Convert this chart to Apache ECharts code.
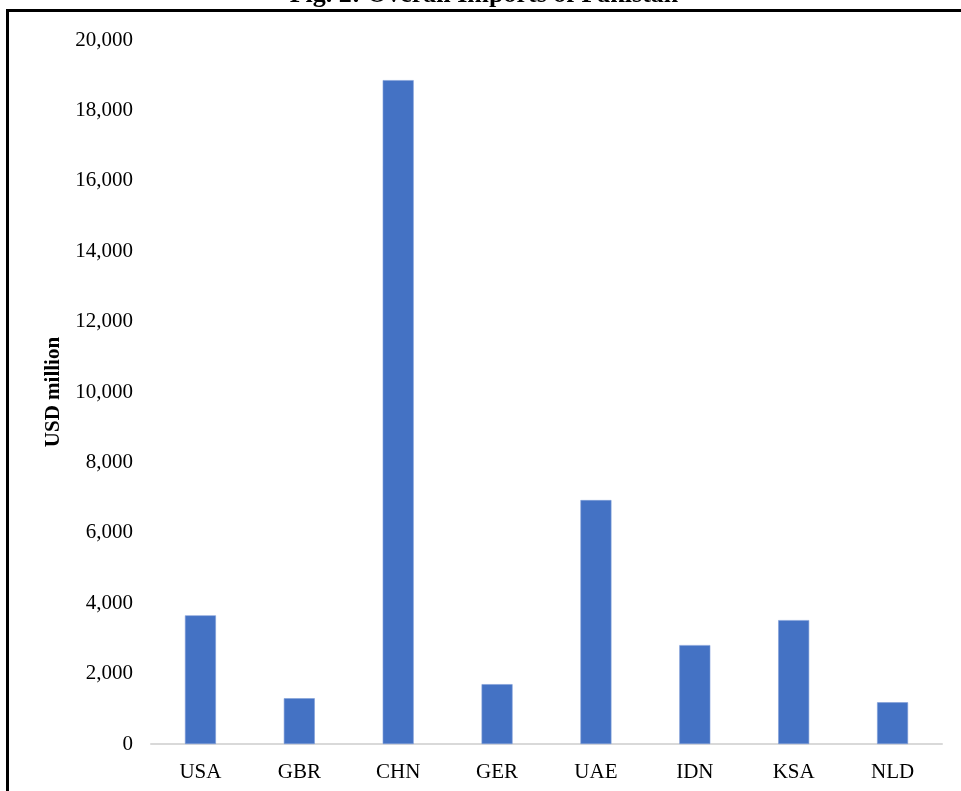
<!DOCTYPE html>
<html>
<head>
<meta charset="utf-8">
<script src="https://cdn.jsdelivr.net/npm/echarts@6/dist/echarts.min.js"></script>
<style>
  html, body { margin: 0; padding: 0; background: #fff; }
  #chart { width: 961px; height: 791px; }
</style>
</head>
<body>
<div id="chart"></div>
<script>
const countries = ['USA', 'GBR', 'CHN', 'GER', 'UAE', 'IDN', 'KSA', 'NLD'];
const imports = [3655, 1300, 18860, 1700, 6930, 2810, 3520, 1185];
const yTicks = [0, 2000, 4000, 6000, 8000, 10000, 12000, 14000, 16000, 18000, 20000];
const titleText = 'Fig. 2: Overall Imports of Pakistan';

const chart = echarts.init(document.getElementById('chart'), null, { width: 961, height: 791 });
chart.setOption({
  animation: false,
  textStyle: {
    fontFamily: 'Liberation Serif',
  },
  // title is clipped at the top edge, so it is placed as graphic text
  graphic: [
    {
      type: 'text',
      x: 484,
      y: 8,
      silent: true,
      style: {
        text: titleText,
        font: 'bold 26px "Liberation Serif"',
        fill: '#000',
        align: 'center',
        verticalAlign: 'bottom',
      },
    },
    {
      type: 'rect',
      shape: { x: 7.5, y: 10.5, width: 1000, height: 1000 },
      style: { fill: 'none', stroke: '#000', lineWidth: 3 },
      silent: true,
    },
  ],
  grid: {
    left: 151,
    right: 19,
    top: 40,
    bottom: 47,
    containLabel: false,
  },
  xAxis: {
    type: 'category',
    data: countries,
    axisLine: { show: true, lineStyle: { color: '#d9d9d9', width: 2 } },
    axisTick: { show: false },
    axisLabel: {
      fontFamily: 'Liberation Serif',
      fontSize: 21,
      color: '#000',
      margin: 18,
    },
  },
  yAxis: {
    type: 'value',
    min: yTicks[0],
    max: yTicks[yTicks.length - 1],
    interval: yTicks[1] - yTicks[0],
    name: 'USD million',
    nameLocation: 'middle',
    nameGap: 87,
    nameTextStyle: {
      fontFamily: 'Liberation Serif',
      fontSize: 21,
      fontWeight: 'bold',
      color: '#000',
    },
    axisLine: { show: false },
    axisTick: { show: false },
    splitLine: { show: false },
    axisLabel: {
      fontFamily: 'Liberation Serif',
      fontSize: 21,
      color: '#000',
      margin: 18,
      formatter: (v) => v.toLocaleString('en-US'),
    },
  },
  series: [
    {
      name: 'Imports',
      type: 'bar',
      data: imports,
      barWidth: 31,
      itemStyle: {
        color: '#4472c4',
        borderColor: '#7f9ed8',
        borderWidth: 0.6,
      },
    },
  ],
});
</script>
</body>
</html>
